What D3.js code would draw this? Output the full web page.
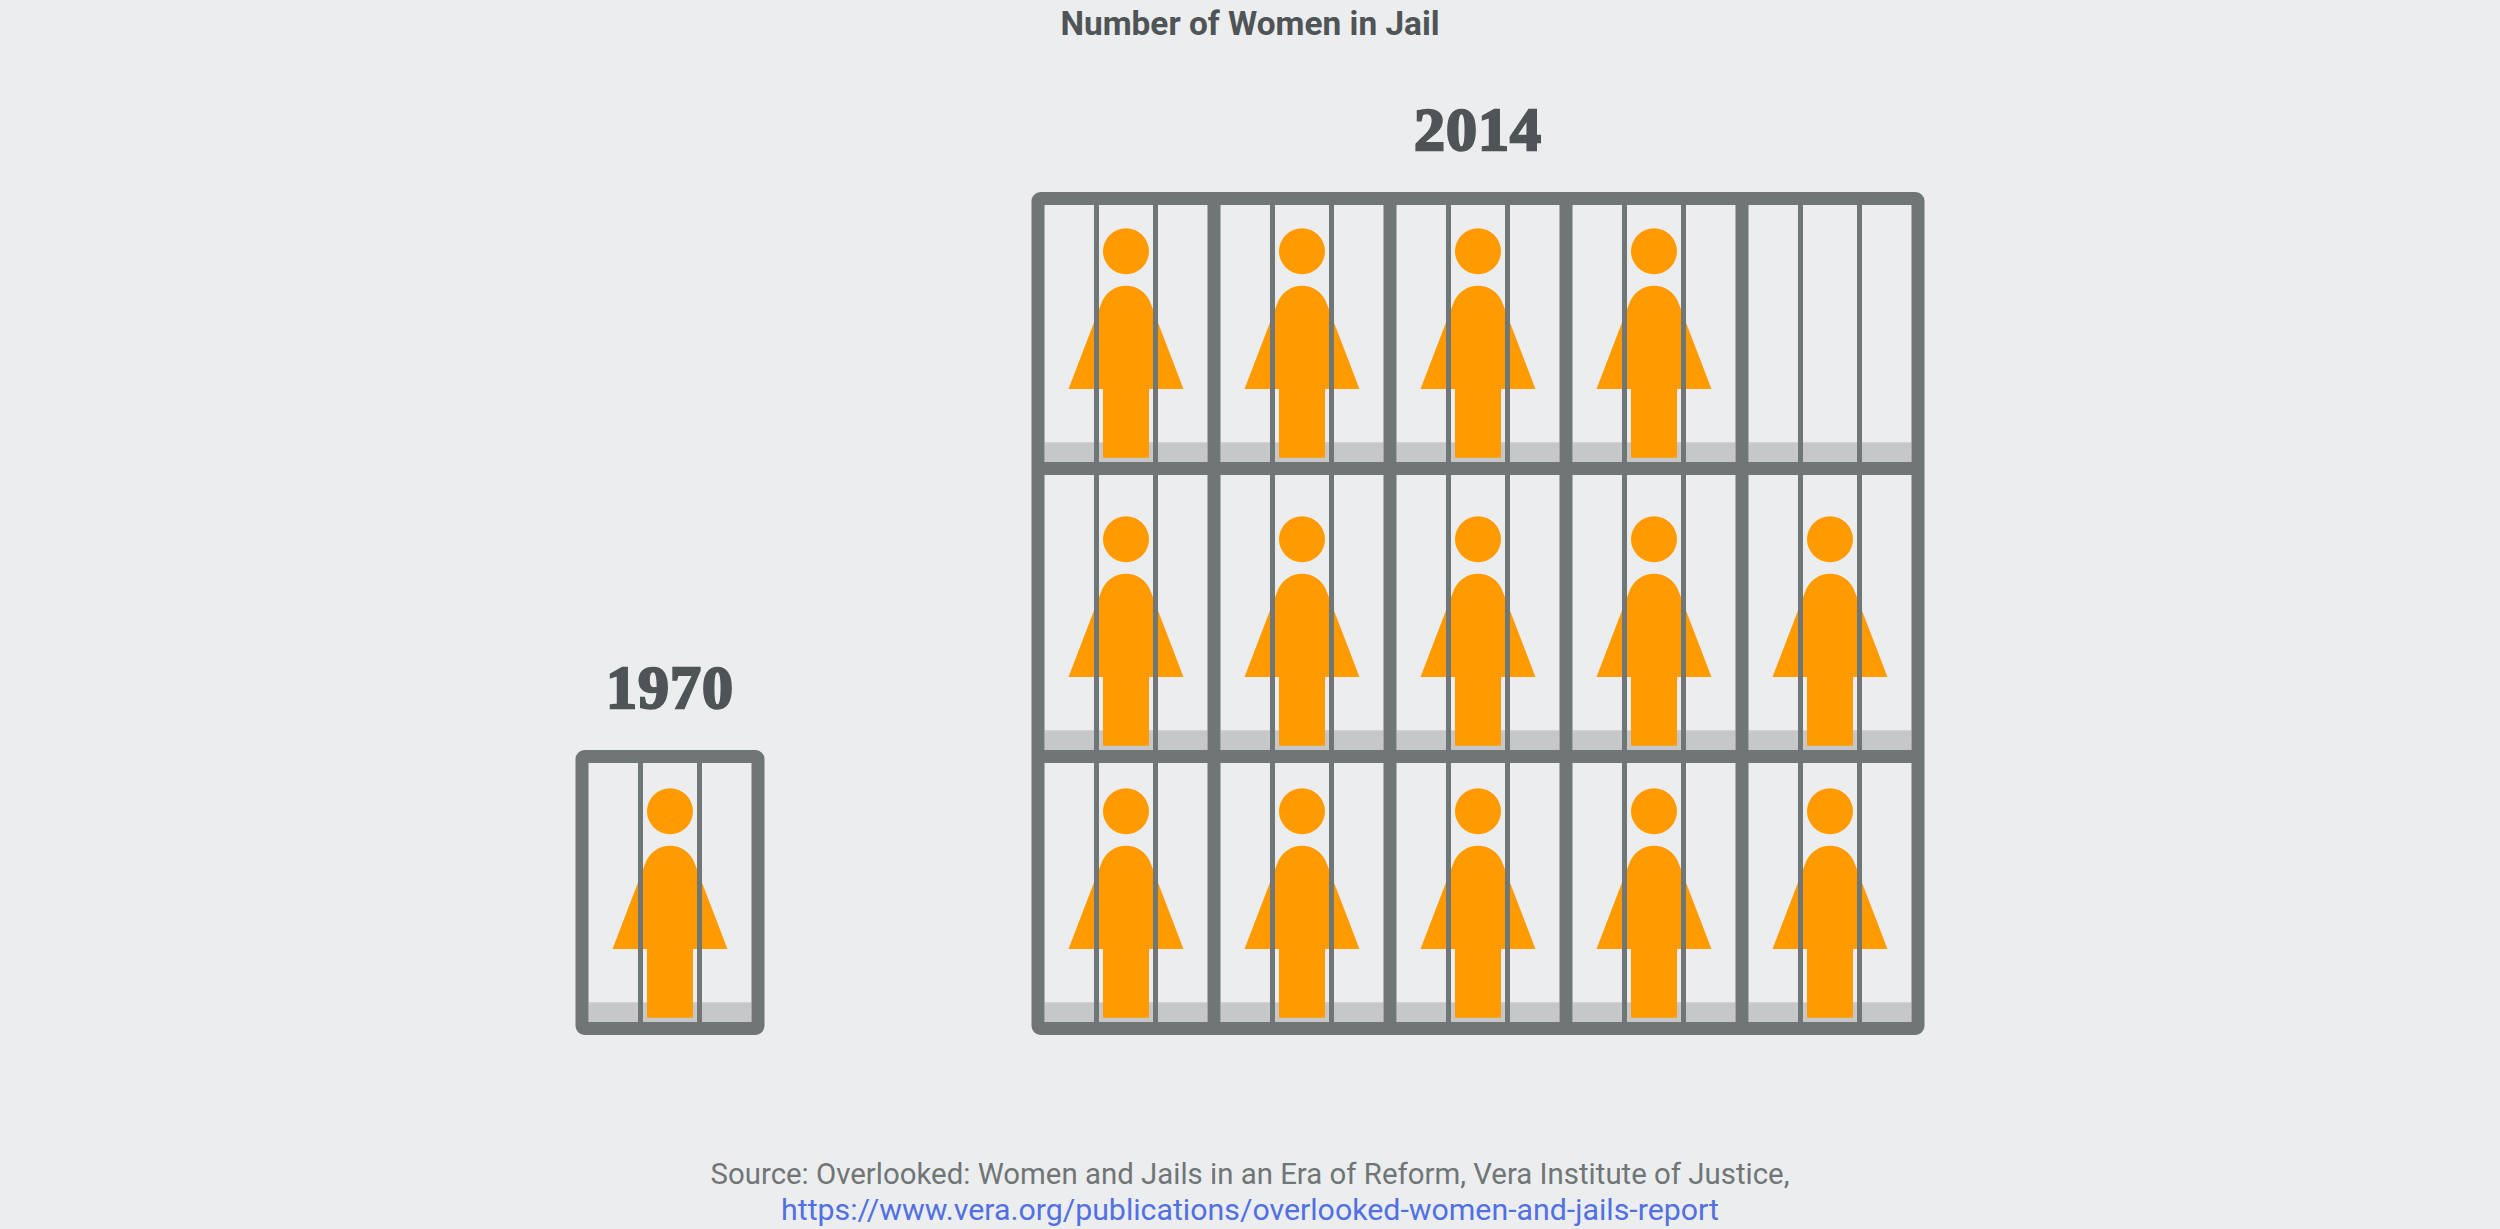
<!DOCTYPE html>
<html><head><meta charset="utf-8">
<script src="https://cdn.jsdelivr.net/npm/d3@7"></script>
<style>html,body{margin:0;padding:0;background:#ecedef;overflow:hidden}svg{display:block}</style>
</head><body><svg id="c" width="2500" height="1229"></svg>
<script>
const years = ["1970", "2014"];
const womenIcons = [1, 14];
const gridColumns = [1, 5];
const gridRows = [1, 3];
const titleText = "Number of Women in Jail";
const sourceLine = "Source: Overlooked: Women and Jails in an Era of Reform, Vera Institute of Justice,";
const sourceLink = "https://www.vera.org/publications/overlooked-women-and-jails-report";

const GREY="#707676", FLOOR="#c5c7c9", ORANGE="#ff9b00", DARK="#4f5456";
const svg=d3.select("#c");
svg.append("rect").attr("width",2500).attr("height",1229).attr("fill","#ecedef");

const B=13, CELL=176, BAR=5;
// row edges (inner top / inner bottom) of the 3-row lattice, bottom row = index 0
const rowTop=d3.scaleOrdinal().domain([0,1,2]).range([763,475,205]);
const rowBottom=d3.scaleOrdinal().domain([0,1,2]).range([1022,750,462]);
const groupLeft=d3.scaleOrdinal().domain(years).range([588.5,1044.5]);
const labelY=d3.scaleOrdinal().domain(years).range([708,150]);

function person(g,cx,bottom){
  const top=bottom-172, r=23, R=26, hemW=57.5, hemY=bottom-68.7, a=0.381;
  g.append("circle").attr("cx",cx).attr("cy",bottom-206.5).attr("r",r).attr("fill",ORANGE);
  const p=d3.path();
  p.moveTo(cx-r,bottom);p.lineTo(cx-r,hemY);p.lineTo(cx-hemW,hemY);
  p.arc(cx,top+R,R,Math.PI+a,2*Math.PI-a);
  p.lineTo(cx+hemW,hemY);p.lineTo(cx+r,hemY);p.lineTo(cx+r,bottom);p.closePath();
  g.append("path").attr("d",p.toString()).attr("fill",ORANGE);
}

years.forEach((y,i)=>{
  const g=svg.append("g").attr("class","jail-"+y);
  const cols=gridColumns[i], rows=gridRows[i], left=groupLeft(y);
  const cx=d3.scaleLinear().domain([0,1]).range([left+81.5,left+81.5+CELL]);
  const cells=d3.range(womenIcons[i]).map(k=>({col:k%5,row:Math.floor(k/5)}));
  const allRows=d3.range(rows), allCols=d3.range(cols);
  // floors
  allRows.forEach(r=>allCols.forEach(c=>{
    g.append("rect").attr("x",cx(c)-81.5).attr("width",163).attr("y",rowBottom(r)-19.7).attr("height",19.7).attr("fill",FLOOR);
  }));
  // people
  cells.forEach(d=>person(g,cx(d.col),rowBottom(d.row)-4.3));
  // vertical bars
  allRows.forEach(r=>allCols.forEach(c=>{
    [-32,27].forEach(dx=>{
      g.append("rect").attr("x",cx(c)+dx).attr("width",BAR).attr("y",rowTop(r)).attr("height",rowBottom(r)-rowTop(r)).attr("fill",GREY);
    });
  }));
  // lattice
  const x0=left-B, x1=left+cols*CELL, top=rowTop(rows-1)-B, bot=rowBottom(0)+B;
  g.append("path").attr("fill",GREY).attr("fill-rule","evenodd").attr("d",()=>{
    const p=d3.path();const q=9;
    p.moveTo(x0+q,top);p.lineTo(x1-q,top);p.arcTo(x1,top,x1,top+q,q);p.lineTo(x1,bot-q);p.arcTo(x1,bot,x1-q,bot,q);
    p.lineTo(x0+q,bot);p.arcTo(x0,bot,x0,bot-q,q);p.lineTo(x0,top+q);p.arcTo(x0,top,x0+q,top,q);p.closePath();
    allRows.forEach(r=>allCols.forEach(c=>{
      const a=cx(c)-81.5;p.rect(a,rowTop(r),163,rowBottom(r)-rowTop(r));
    }));
    return p.toString();
  });
  const mid=left-B+(cols*CELL+B)/2;
  g.append("text").attr("x",mid).attr("y",labelY(y)).attr("text-anchor","middle")
    .attr("font-family","Liberation Serif").attr("font-weight",700).attr("font-size",62).attr("letter-spacing",1).attr("fill",DARK).attr("stroke",DARK).attr("stroke-width",2.4).text(y);
});

svg.append("text").attr("x",1250).attr("y",34.5).attr("text-anchor","middle").attr("font-family","Roboto").attr("font-weight",700).attr("font-size",33.4).attr("fill",DARK).text(titleText);
svg.append("text").attr("x",1250).attr("y",1184).attr("text-anchor","middle").attr("font-family","Roboto").attr("font-size",29.4).attr("fill","#707676").text(sourceLine);
svg.append("text").attr("x",1250).attr("y",1220).attr("text-anchor","middle").attr("font-family","Roboto").attr("font-size",30.3).attr("fill","#5170e2").text(sourceLink);
</script></body></html>
